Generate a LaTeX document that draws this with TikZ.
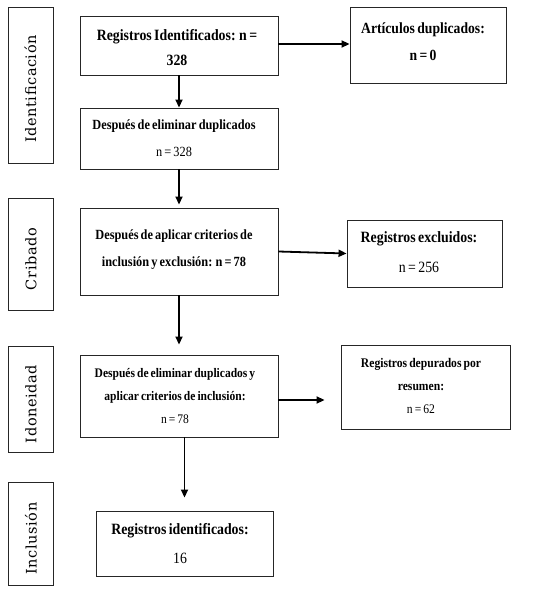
\documentclass[tikz,border=0pt]{standalone}
\usepackage{fontspec}
\setmainfont[FakeStretch=0.88,WordSpace=0.7]{Liberation Serif}
\newfontfamily\sidefont[LetterSpace=4]{DejaVu Serif}
\usetikzlibrary{arrows.meta,positioning}
\begin{document}
\begin{tikzpicture}[x=1pt,y=-1pt,
  box/.style={draw=black!85,line width=0.9pt,inner sep=0pt,align=center,anchor=center},
  side/.style={draw=black!85,line width=0.9pt,inner sep=0pt,minimum width=45pt},
  sidelbl/.style={rotate=90,font=\sidefont\fontsize{14.5}{16}\selectfont,inner sep=0pt},
  arr/.style={line width=1.8pt,-{Triangle[length=8pt,width=7pt]}}]
\useasboundingbox (0,0) rectangle (538,593);
% side boxes
\node[side,minimum height=156pt] (s1) at (30.5,85) {};
\node[sidelbl] (l1) at ([yshift=-4pt]s1.center) {Identificación};
\node[side,minimum height=112pt] (s2) at (31,254) {};
\node[sidelbl] (l2) at ([yshift=-5pt]s2.center) {Cribado};
\node[side,minimum height=106pt] (s3) at (31,399) {};
\node[sidelbl] (l3) at ([yshift=-5pt]s3.center) {Idoneidad};
\node[side,minimum height=103pt] (s4) at (31,533.5) {};
\node[sidelbl] (l4) at ([yshift=-5pt]s4.center) {Inclusión};
% main boxes
\node[box,minimum width=198pt,minimum height=59pt] (b1) at (179,45.5) {};
\node[align=center,inner sep=0pt,font=\fontsize{15.7}{25}\selectfont\bfseries] (t1) at (177,47.5) {Registros Identificados: n =\\328};
\node[box,minimum width=198pt,minimum height=61pt] (b2) at (179,138.5) {};
\node[align=center,inner sep=0pt,font=\fontsize{14}{27}\selectfont] (t2) at (174,138.5) {\textbf{Después de eliminar duplicados}\\n = 328};
\node[box,minimum width=198pt,minimum height=87pt] (b3) at (179,251.5) {};
\node[align=center,inner sep=0pt,font=\fontsize{14}{27}\selectfont\bfseries] (t3) at (174,249.5) {Después de aplicar criterios de\\inclusión y exclusión: n = 78};
\node[box,minimum width=198pt,minimum height=82pt] (b4) at (179,396) {};
\node[align=center,inner sep=0pt,font=\fontsize{13.1}{23}\selectfont] (t4) at (175,396) {\textbf{Después de eliminar duplicados y}\\\textbf{aplicar criterios de inclusión:}\\n = 78};
\node[box,minimum width=177pt,minimum height=65pt] (b5) at (184.5,543.5) {};
\node[align=center,inner sep=0pt,font=\fontsize{15.7}{29}\selectfont] (t5) at (180,543.5) {\textbf{Registros identificados:}\\16};
% right boxes
\node[box,minimum width=156pt,minimum height=76pt] (r1) at (428,45) {};
\node[align=center,inner sep=0pt,font=\fontsize{15.5}{27}\selectfont\bfseries] (t6) at (423,41.5) {Artículos duplicados:\\n = 0};
\node[box,minimum width=155pt,minimum height=67pt] (r2) at (424.5,253.5) {};
\node[align=center,inner sep=0pt,font=\fontsize{15.7}{30}\selectfont] (t7) at (419,252) {\textbf{Registros excluidos:}\\n = 256};
\node[box,minimum width=169pt,minimum height=84pt] (r3) at (425.5,387) {};
\node[align=center,inner sep=0pt,font=\fontsize{13.2}{23}\selectfont] (t8) at (421,386) {\textbf{Registros depurados por}\\\textbf{resumen:}\\n = 62};
% arrows
\draw[arr] (b1.east |- 0,44) -- (r1.west |- 0,44);
\draw[arr] (b3.east) -- (r2.west);
\draw[arr,shorten >=16pt] (b4.east |- 0,400) -- (r3.west |- 0,400);
\draw[arr] (b1) -- (b2);
\draw[arr,shorten >=3pt] (b2) -- (b3);
\draw[arr,shorten >=10pt] (b3) -- (b4);
\draw[arr,shorten >=13pt] (b5.north |- b4.south) -- (b5.north);
\end{tikzpicture}
\end{document}
